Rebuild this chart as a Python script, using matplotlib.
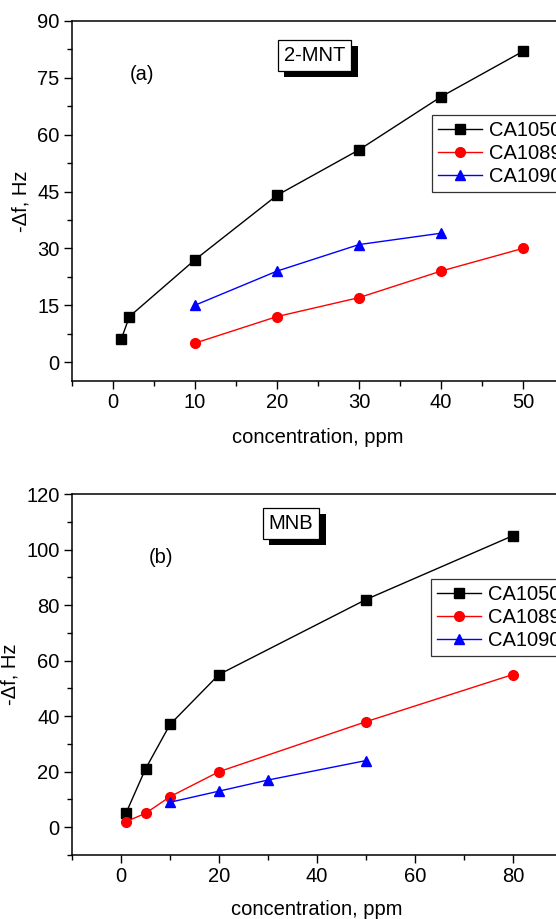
import matplotlib
matplotlib.use("Agg")
import matplotlib.pyplot as plt
import matplotlib.patheffects as pe
from matplotlib.ticker import MultipleLocator, FixedLocator

plt.rcParams['font.family'] = ['Liberation Sans', 'DejaVu Sans']
plt.rcParams['font.size'] = 14.5

# Panel (a): 2-MNT
a_x_1050 = [1, 2, 10, 20, 30, 40, 50]
a_y_1050 = [6, 12, 27, 44, 56, 70, 82]
a_x_1089 = [10, 20, 30, 40, 50]
a_y_1089 = [5, 12, 17, 24, 30]
a_x_1090 = [10, 20, 30, 40]
a_y_1090 = [15, 24, 31, 34]
a_xticks = [0, 10, 20, 30, 40, 50]

# Panel (b): MNB
b_x_1050 = [1, 5, 10, 20, 50, 80]
b_y_1050 = [5, 21, 37, 55, 82, 105]
b_x_1089 = [1, 5, 10, 20, 50, 80]
b_y_1089 = [2, 5, 11, 20, 38, 55]
b_x_1090 = [10, 20, 30, 50]
b_y_1090 = [9, 13, 17, 24]
b_xticks = [0, 20, 40, 60, 80]

labels = ['CA1050', 'CA1089', 'CA1090']

W, H = 556, 919
fig = plt.figure(figsize=(W / 100, H / 100), dpi=100)

def frac(x0, y0, x1, y1):
    return [x0 / W, 1 - y1 / H, (x1 - x0) / W, (y1 - y0) / H]

ax1 = fig.add_axes(frac(72, 21, 72 + 60 * 8.2, 381))
ax2 = fig.add_axes(frac(72, 494, 72 + 100 * 4.9, 855))

FS = 14.5

def style(ax):
    for s in ax.spines.values():
        s.set_linewidth(1.1)
    ax.tick_params(which='major', direction='out', length=6, width=1.0,
                   top=False, right=False, labelsize=FS, pad=3)
    ax.tick_params(which='minor', direction='out', length=3.5, width=1.0,
                   top=False, right=False)

def plot_series(ax, xs, ys):
    ax.plot(xs[0], ys[0], color='black', marker='s', markersize=6.5, lw=1.0, label=labels[0])
    ax.plot(xs[1], ys[1], color='red', marker='o', markersize=7, lw=1.0, label=labels[1])
    ax.plot(xs[2], ys[2], color='blue', marker='^', markersize=7.5, lw=1.0, label=labels[2])

def boxed(ax, x, y, s):
    t = ax.text(x, y, s, ha='center', va='center', fontsize=FS,
                bbox=dict(boxstyle='square,pad=0.3', fc='white', ec='black', lw=0.9))
    t.get_bbox_patch().set_path_effects([
        pe.SimplePatchShadow(offset=(4.5, -4.5), shadow_rgbFace='black', alpha=1.0),
        pe.Normal()])

def legend(ax, bx, by):
    leg = ax.legend(loc='upper left', bbox_to_anchor=(bx, by), frameon=True,
                    fancybox=False, edgecolor='black', borderaxespad=0,
                    handlelength=2.2, handletextpad=0.35, borderpad=0.3,
                    labelspacing=0.2, fontsize=FS)
    leg.get_frame().set_linewidth(0.9)

# Panel a
plot_series(ax1, [a_x_1050, a_x_1089, a_x_1090], [a_y_1050, a_y_1089, a_y_1090])
ax1.set_xlim(-5, 55)
ax1.set_ylim(-5, 90)
ax1.xaxis.set_major_locator(FixedLocator(a_xticks))
ax1.xaxis.set_minor_locator(MultipleLocator(5))
ax1.yaxis.set_major_locator(MultipleLocator(15))
ax1.yaxis.set_minor_locator(MultipleLocator(7.5))
style(ax1)
ax1.set_xlabel('concentration, ppm', fontsize=FS, labelpad=11)
ax1.set_ylabel('-\u0394f, Hz', fontsize=FS, labelpad=5)
ax1.text(3.5, 76, '(a)', ha='center', va='center', fontsize=FS)
boxed(ax1, 24.6, 81, '2-MNT')
legend(ax1, (431.7 - 72) / (60 * 8.2), 0.739)

# Panel b
plot_series(ax2, [b_x_1050, b_x_1089, b_x_1090], [b_y_1050, b_y_1089, b_y_1090])
ax2.set_xlim(-10, 90)
ax2.set_ylim(-10, 120)
ax2.xaxis.set_major_locator(FixedLocator(b_xticks))
ax2.xaxis.set_minor_locator(MultipleLocator(10))
ax2.yaxis.set_major_locator(MultipleLocator(20))
ax2.yaxis.set_minor_locator(MultipleLocator(10))
style(ax2)
ax2.set_xlabel('concentration, ppm', fontsize=FS, labelpad=10)
ax2.set_ylabel('-\u0394f, Hz', fontsize=FS, labelpad=5)
ax2.text(8.2, 97, '(b)', ha='center', va='center', fontsize=FS)
boxed(ax2, 34.7, 109.4, 'MNB')
legend(ax2, (431 - 72) / (100 * 4.9), 0.7645)

fig.savefig('out.png', dpi=100)
